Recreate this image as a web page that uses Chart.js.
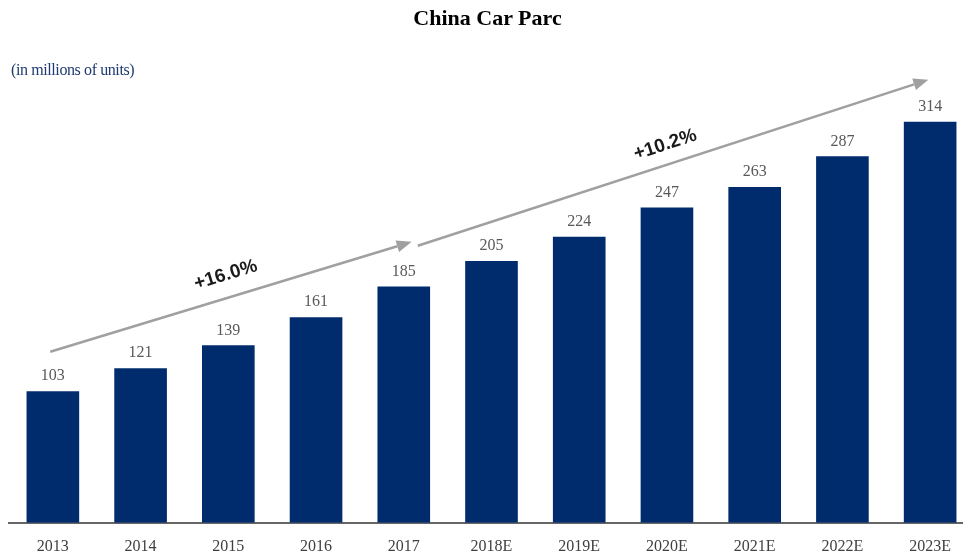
<!DOCTYPE html>
<html>
<head>
<meta charset="utf-8">
<style>
	body { margin: 0; overflow: hidden; background: #fff; }
	.wrap { position: relative; width: 980px; height: 554px; overflow: hidden; }
	.title { position: absolute; left: 0; width: 975px; top: 5px; text-align: center;
		font: bold 22px "Liberation Serif", serif; color: #000; }
	.unit { position: absolute; left: 11px; top: 61px;
		font: 16px "Liberation Serif", serif; color: #1f3a70; letter-spacing: -0.4px; }
</style>
</head>
<body>
<div class="wrap">
	<canvas id="graf" width="980" height="572"></canvas>
	<div class="title">China Car Parc</div>
	<div class="unit">(in millions of units)</div>
</div>
<script src="https://cdn.jsdelivr.net/npm/chart.js"></script>
<script>
	const labels = ["2013", "2014", "2015", "2016", "2017", "2018E", "2019E", "2020E", "2021E", "2022E", "2023E"];
	const parc = [103, 121, 139, 161, 185, 205, 224, 247, 263, 287, 314];

	// growth arrows: [x index, y value] start and end, plus label
	const arrows = [
		{ from: [-0.03, 134], to: [4.09, 220], text: "+16.0%", at: [1.97, 194] },
		{ from: [4.16, 217], to: [9.98, 347], text: "+10.2%", at: [6.98, 296] },
	];

	const valueLabels = {
		id: "valueLabels",
		afterDatasetsDraw(chart) {
			const ctx = chart.ctx;
			const meta = chart.getDatasetMeta(0);
			ctx.save();
			ctx.font = '16px "Liberation Serif", serif';
			ctx.fillStyle = "#595959";
			ctx.textAlign = "center";
			ctx.textBaseline = "bottom";
			meta.data.forEach((bar, i) => {
				ctx.fillText(parc[i], bar.x, bar.y - 7);
			});
			ctx.restore();
		},
	};

	const growthArrows = {
		id: "growthArrows",
		afterDraw(chart) {
			const ctx = chart.ctx;
			const x = chart.scales.x;
			const y = chart.scales.y;
			ctx.save();
			arrows.forEach((a) => {
				const x1 = x.getPixelForValue(a.from[0]);
				const y1 = y.getPixelForValue(a.from[1]);
				const x2 = x.getPixelForValue(a.to[0]);
				const y2 = y.getPixelForValue(a.to[1]);
				const ang = Math.atan2(y2 - y1, x2 - x1);
				const head = 15;
				ctx.strokeStyle = "#a0a0a0";
				ctx.fillStyle = "#a0a0a0";
				ctx.lineWidth = 2.5;
				ctx.beginPath();
				ctx.moveTo(x1, y1);
				ctx.lineTo(x2 - head * Math.cos(ang), y2 - head * Math.sin(ang));
				ctx.stroke();
				ctx.beginPath();
				ctx.moveTo(x2, y2);
				ctx.lineTo(x2 - head * Math.cos(ang) + 6 * Math.sin(ang), y2 - head * Math.sin(ang) - 6 * Math.cos(ang));
				ctx.lineTo(x2 - head * Math.cos(ang) - 6 * Math.sin(ang), y2 - head * Math.sin(ang) + 6 * Math.cos(ang));
				ctx.closePath();
				ctx.fill();

				ctx.save();
				ctx.translate(x.getPixelForValue(a.at[0]), y.getPixelForValue(a.at[1]));
				ctx.rotate(ang);
				ctx.font = 'bold 19px "Liberation Sans", sans-serif';
				ctx.fillStyle = "#1a1a1a";
				ctx.textAlign = "center";
				ctx.textBaseline = "middle";
				ctx.fillText(a.text, 0, 0);
				ctx.restore();
			});
			ctx.restore();
		},
	};

	var graf = new Chart(document.getElementById("graf"), {
		type: "bar",
		data: {
			labels: labels,
			datasets: [
				{
					data: parc,
					backgroundColor: "#002c6e",
					barPercentage: 0.6,
					categoryPercentage: 1,
				},
			],
		},
		options: {
			responsive: false,
			animation: false,
			layout: { padding: { left: 9, right: 6, top: 12, bottom: 2 } },
			plugins: {
				legend: { display: false },
				tooltip: { enabled: false },
			},
			scales: {
				x: {
					grid: { display: false, drawTicks: false },
					border: { display: true, color: "#666666", width: 2 },
					ticks: {
						padding: 14,
						color: "#404040",
						font: { family: "Liberation Serif", size: 16 },
					},
				},
				y: {
					display: false,
					min: 0,
					max: 400,
				},
			},
		},
		plugins: [valueLabels, growthArrows],
	});
</script>
</body>
</html>
